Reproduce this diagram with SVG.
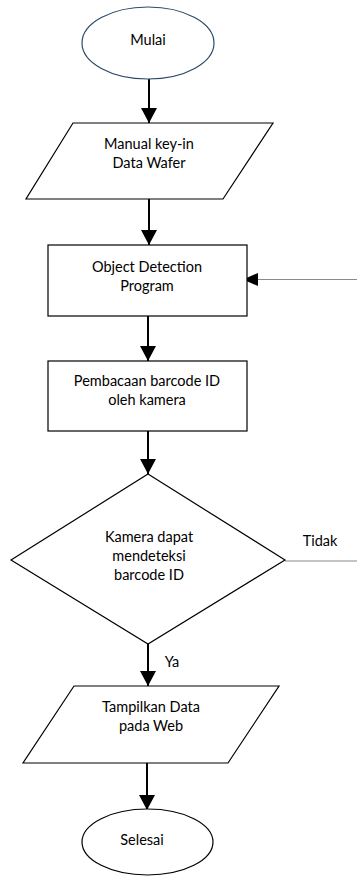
<svg xmlns="http://www.w3.org/2000/svg" width="357" height="876" viewBox="0 0 357 876">
<defs>
<marker id="ah" markerWidth="16" markerHeight="16" refX="15" refY="8" orient="auto" markerUnits="userSpaceOnUse" viewBox="0 0 16 16">
<path d="M0,0 L15,8 L0,16 Z" fill="#000"/>
</marker>
<style>
.s{fill:#fff;stroke:#000;stroke-width:1.2}
.t{font-family:Lato,"Open Sans",sans-serif;font-size:14.5px;fill:#000;text-anchor:middle}
.c{fill:none;stroke:#000;stroke-width:2}
.g{fill:none;stroke:#8a8a8a;stroke-width:1.2}
</style>
</defs>
<rect width="357" height="876" fill="#fff"/>
<g id="connectors">
<line class="c" x1="149" y1="79" x2="149" y2="123" marker-end="url(#ah)"/>
<line class="c" x1="149" y1="199" x2="149" y2="245" marker-end="url(#ah)"/>
<line class="c" x1="148" y1="316" x2="148" y2="361" marker-end="url(#ah)"/>
<line class="c" x1="148" y1="431" x2="148" y2="474" marker-end="url(#ah)"/>
<line class="c" x1="148" y1="644" x2="148" y2="686" marker-end="url(#ah)"/>
<line class="c" x1="147" y1="763" x2="147" y2="810" marker-end="url(#ah)"/>
<line class="g" x1="357" y1="279.5" x2="250" y2="279.5"/>
<path d="M258,273 L243,279.5 L258,286 Z" fill="#000"/>
<line class="g" x1="285" y1="561" x2="357" y2="561"/>
<text class="t" x="320" y="546">Tidak</text>
<text class="t" x="172" y="667">Ya</text>
</g>
<g id="mulai">
<ellipse cx="148" cy="43" rx="66" ry="36" fill="#fff" stroke="#2e4a6b" stroke-width="1.2"/>
<text class="t" x="148" y="45">Mulai</text>
</g>
<g id="manual">
<polygon class="s" points="73,123 273,123 223,199 26,199"/>
<text class="t" x="149" y="149">Manual key-in</text>
<text class="t" x="149" y="168">Data Wafer</text>
</g>
<g id="object">
<rect class="s" x="48" y="245" width="199" height="71"/>
<text class="t" x="147" y="272">Object Detection</text>
<text class="t" x="147" y="291">Program</text>
</g>
<g id="pembacaan">
<rect class="s" x="48" y="361" width="199" height="70"/>
<text class="t" x="147" y="386">Pembacaan barcode ID</text>
<text class="t" x="147" y="405">oleh kamera</text>
</g>
<g id="decision">
<polygon class="s" points="148,474 285,560 148,644 11,560"/>
<text class="t" x="149" y="542">Kamera dapat</text>
<text class="t" x="149" y="561">mendeteksi</text>
<text class="t" x="149" y="580">barcode ID</text>
</g>
<g id="tampilkan">
<polygon class="s" points="74,686 279,686 228,763 23,763"/>
<text class="t" x="151" y="712">Tampilkan Data</text>
<text class="t" x="151" y="731">pada Web</text>
</g>
<g id="selesai">
<ellipse class="s" cx="147.5" cy="842" rx="65.5" ry="33"/>
<text class="t" x="142" y="845">Selesai</text>
</g>
</svg>
